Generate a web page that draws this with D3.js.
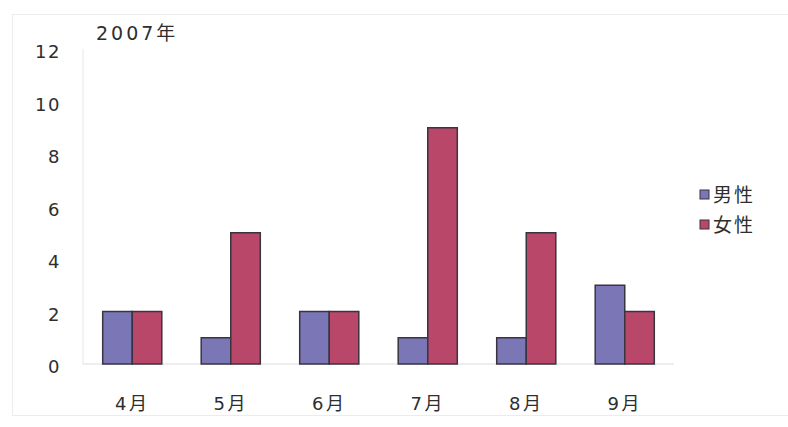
<!DOCTYPE html>
<html>
<head>
<meta charset="utf-8">
<script src="https://cdn.jsdelivr.net/npm/d3@7"></script>
<style>
  body { margin: 0; background: #fff; }
  text { font-family: "DejaVu Sans", "Noto Sans CJK JP", sans-serif; fill: #2e2e2e; }
</style>
</head>
<body>
<div id="chart"></div>
<script>
// data
var months = ["4月", "5月", "6月", "7月", "8月", "9月"]
var male = [2, 1, 2, 1, 1, 3]
var female = [2, 5, 2, 9, 5, 2]
var seriesNames = ["男性", "女性"]
var yTicks = [0, 2, 4, 6, 8, 10, 12]

var W = 788, H = 427
var margin = { top: 49, right: 114, bottom: 63, left: 83 },
  width = W - margin.left - margin.right,
  height = H - margin.top - margin.bottom;

var svg = d3.select("#chart")
  .append("svg")
  .attr("width", W)
  .attr("height", H)

// faint outer frame
svg.append("rect")
  .attr("x", 12.5).attr("y", 14.5)
  .attr("width", W - 12).attr("height", H - 26)
  .style("fill", "none")
  .style("stroke", "#ececec")

var g = svg.append("g")
  .attr("transform", "translate(" + margin.left + "," + margin.top + ")")

var x0 = d3.scaleBand().domain(months).range([0, width]).paddingInner(0.4).paddingOuter(0.2)
var x1 = d3.scaleBand().domain(seriesNames).range([0, x0.bandwidth()])
var y = d3.scaleLinear().domain([0, 12]).range([height, 0])
var color = d3.scaleOrdinal().domain(seriesNames).range(["#7b77b7", "#b9476a"])

// axes lines
g.append("line").attr("x1", 0).attr("x2", 0).attr("y1", 0).attr("y2", height)
  .style("stroke", "#e6e6e6")
g.append("line").attr("x1", 0).attr("x2", width).attr("y1", height).attr("y2", height)
  .style("stroke", "#dcdcdc")

// y tick labels
g.selectAll(".ylab")
  .data(yTicks).enter()
  .append("text")
  .attr("x", -22)
  .attr("y", function (d) { return y(d) + 3 })
  .attr("dy", "0.35em")
  .attr("text-anchor", "end")
  .style("font-size", "18px")
  .style("letter-spacing", "1.5px")
  .text(function (d) { return d })

// month labels
g.selectAll(".xlab")
  .data(months).enter()
  .append("text")
  .attr("x", function (d) { return x0(d) + x0.bandwidth() / 2 })
  .attr("y", height + 46)
  .attr("text-anchor", "middle")
  .style("font-size", "18px")
  .style("letter-spacing", "2.5px")
  .text(function (d) { return d })

// bars
var rows = months.map(function (m, i) { return { month: m, vals: [male[i], female[i]] } })
var grp = g.selectAll(".grp")
  .data(rows).enter()
  .append("g")
  .attr("transform", function (d) { return "translate(" + x0(d.month) + ",0)" })

grp.selectAll("rect")
  .data(function (d) { return d.vals.map(function (v, k) { return { key: seriesNames[k], v: v } }) })
  .enter()
  .append("rect")
  .attr("x", function (d) { return x1(d.key) })
  .attr("y", function (d) { return y(d.v) })
  .attr("width", x1.bandwidth())
  .attr("height", function (d) { return height - y(d.v) })
  .style("fill", function (d) { return color(d.key) })
  .style("stroke", "#3a3340")
  .style("stroke-width", 1.5)

// year title
svg.append("text")
  .attr("x", 96).attr("y", 40)
  .style("font-size", "19px")
  .style("letter-spacing", "3px")
  .text("2007年")

// legend
var legend = svg.append("g").attr("transform", "translate(700,190)")
legend.selectAll("rect")
  .data(seriesNames).enter()
  .append("rect")
  .attr("x", 0)
  .attr("y", function (d, i) { return i * 30 })
  .attr("width", 9).attr("height", 9)
  .style("fill", function (d) { return color(d) })
  .style("stroke", "#3a3340")
legend.selectAll("text")
  .data(seriesNames).enter()
  .append("text")
  .attr("x", 13)
  .attr("y", function (d, i) { return i * 30 + 5 })
  .attr("dy", "0.35em")
  .style("font-size", "19px")
  .style("letter-spacing", "2px")
  .text(function (d) { return d })
</script>
</body>
</html>
